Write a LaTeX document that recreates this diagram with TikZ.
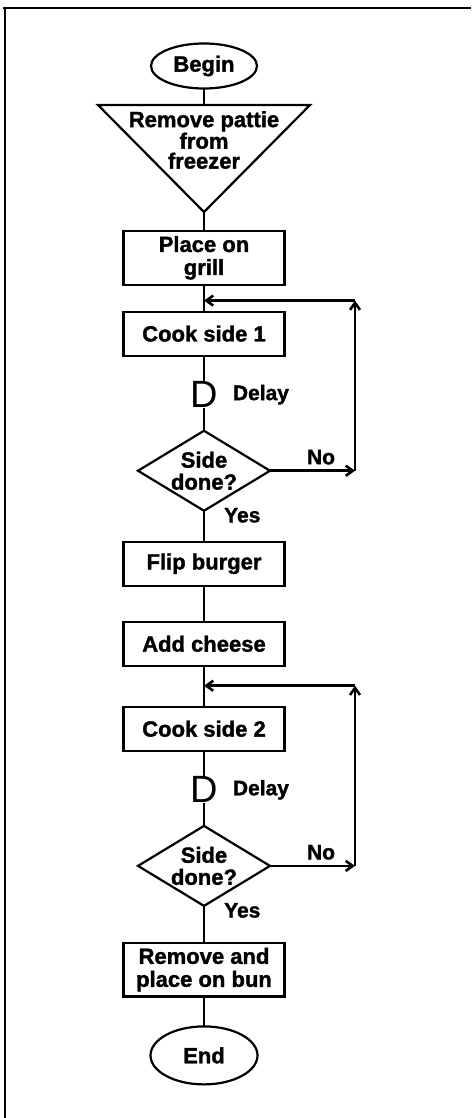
\documentclass[tikz,border=0pt]{standalone}
\usepackage{fontspec}
\setmainfont{Liberation Sans}[BoldFeatures={FakeBold=1.5}]
\usetikzlibrary{arrows.meta,positioning,shapes.geometric}

\begin{document}
\begin{tikzpicture}[
  x=1pt, y=-1pt,
  stepbox/.style={draw, rectangle, line width=2.2pt, outer sep=0pt, minimum width=161pt, minimum height=44pt, inner ysep=5pt, align=center, font=\fontsize{22}{23}\selectfont\bfseries},
  terminal/.style={draw, ellipse, line width=2.2pt, outer sep=0pt, minimum width=106pt, inner sep=1pt, font=\fontsize{22}{23}\selectfont\bfseries},
  decision/.style={draw, diamond, line width=2.2pt, outer sep=0pt, aspect=1.7, inner sep=0pt, minimum width=132pt, minimum height=80pt, align=center, font=\fontsize{22}{22}\selectfont\bfseries},
  delaysym/.style={inner sep=0pt, outer sep=0pt, font=\fontsize{38}{38}\selectfont},
  lbl/.style={inner sep=0pt, font=\fontsize{21}{21}\selectfont\bfseries},
  flow/.style={line width=2.2pt, draw=black},
  back/.style={-{Straight Barb[length=7pt,width=10pt]}, line width=2.6pt, draw=black},
  frame/.style={line width=2.6pt, draw=black},
]
\useasboundingbox (0,0) rectangle (471,1118);

% page frame (only top and left edges show)
\draw[frame] (3,8) -- (471,8);
\draw[frame] (5,7) -- (5,1118);

% start and the triangle step
\node[terminal, minimum height=45pt] (begin) at (204,66) {Begin};
\coordinate (triL) at (98,105);
\coordinate (triR) at (310,105);
\coordinate (tip) at (204,212);
\coordinate (tritop) at (204,105);
\draw[flow, line join=miter] (triL) -- (triR) -- (tip) -- cycle;
\node[align=center, inner sep=0pt, font=\fontsize{22}{20}\selectfont\bfseries] (pattie) at (204,140) {Remove pattie\\from\\freezer};

% first side
\node[stepbox, below=19pt of tip] (place) {Place on\\grill};
\node[stepbox, below=27pt of place] (cook1) {Cook side 1};
\node[delaysym, below=26pt of cook1] (delay1) {D};
\node[lbl, right=15pt of delay1] (delay1lbl) {Delay};
\node[decision, below=23pt of delay1] (check1) {Side\\done?};
\node[lbl, below right=-3pt and 20pt of check1.south] (yes1) {Yes};

% second side
\node[stepbox, below=31pt of check1] (flip) {Flip burger};
\node[stepbox, below=36pt of flip] (cheese) {Add cheese};
\node[stepbox, below=41pt of cheese] (cook2) {Cook side 2};
\node[delaysym, below=26pt of cook2] (delay2) {D};
\node[lbl, right=15pt of delay2] (delay2lbl) {Delay};
\node[decision, below=23pt of delay2] (check2) {Side\\done?};
\node[lbl, below right=-3pt and 20pt of check2.south] (yes2) {Yes};

% finish
\node[stepbox, below=37pt of check2] (serve) {Remove and\\place on bun};
\node[terminal, minimum height=58pt, minimum width=107pt, below=30pt of serve] (stop) {End};

% main line
\draw[flow] (begin) -- (tritop);
\draw[flow] (tip) -- (place);
\draw[flow] (place) -- (cook1);
\draw[flow] (cook1) -- (delay1);
\draw[flow] (delay1) -- (check1);
\draw[flow] (check1) -- (flip);
\draw[flow] (flip) -- (cheese);
\draw[flow] (cheese) -- (cook2);
\draw[flow] (cook2) -- (delay2);
\draw[flow] (delay2) -- (check2);
\draw[flow] (check2) -- (serve);
\draw[flow] (serve) -- (stop);

% loop back when the side is not done
\coordinate[below=16pt of place] (join1);
\coordinate[right=151pt of join1] (top1);
\draw[back] (check1.east) -- node[lbl, above=5pt, pos=0.6] (no1) {No} (top1 |- check1.east);
\draw[back] (top1 |- check1.east) -- (top1);
\draw[back] (top1) -- (join1);

\coordinate[below=20pt of cheese] (join2);
\coordinate[right=151pt of join2] (top2);
\draw[back] (check2.east) -- node[lbl, above=5pt, pos=0.6] (no2) {No} (top2 |- check2.east);
\draw[back] (top2 |- check2.east) -- (top2);
\draw[back] (top2) -- (join2);

\end{tikzpicture}
\end{document}
